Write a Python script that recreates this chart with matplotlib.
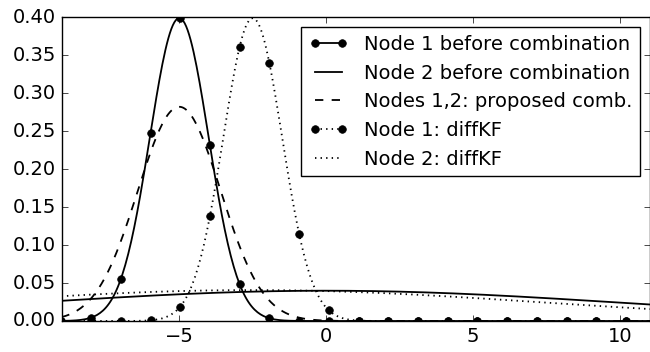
import numpy as np
import matplotlib
matplotlib.use('Agg')
import matplotlib.pyplot as plt

# Gaussian densities: (label, mean, std)
labels = ['Node 1 before combination', 'Node 2 before combination',
          'Nodes 1,2: proposed comb.', 'Node 1: diffKF', 'Node 2: diffKF']
means = [-5.0, 0.0, -5.0, -2.5, -2.5]
stds = [1.0, 10.0, 1.414, 1.0, 9.8]
styles = ['-', '-', '--', ':', ':']
has_marker = [True, False, False, True, False]

# marker grid (first marker at -8, spacing ~1.011)
mark_start = -8.0
mark_step = 1.011
sub = 20


def gauss(x, m, s):
    return np.exp(-0.5 * ((x - m) / s) ** 2) / (s * np.sqrt(2 * np.pi))


def main():
    plt.style.use('classic')
    plt.rcParams['figure.facecolor'] = 'white'
    plt.rcParams['savefig.facecolor'] = 'white'
    plt.rcParams['font.size'] = 14

    x = np.linspace(mark_start - mark_step, mark_start + 19 * mark_step, 20 * sub + 1)

    fig = plt.figure(figsize=(6.5, 3.52), dpi=100)
    ax = fig.add_axes([61.7 / 650, 31.0 / 352, (649.5 - 61.7) / 650, (334.7 - 31.0) / 352])

    for lab, m, s, ls, mk in zip(labels, means, stds, styles, has_marker):
        if mk:
            ax.plot(x, gauss(x, m, s), linestyle=ls, color='k', lw=1.3, marker='o',
                    markersize=5.5, markevery=sub, label=lab)
        else:
            ax.plot(x, gauss(x, m, s), linestyle=ls, color='k', lw=1.3, label=lab)

    ax.set_xlim(-9, 11)
    ax.set_ylim(0, 0.40)
    ax.set_xticks([-5, 0, 5, 10])
    ax.set_yticks(np.arange(0, 0.401, 0.05))
    ax.yaxis.set_major_formatter(matplotlib.ticker.FormatStrFormatter('%.2f'))
    ax.tick_params(labelsize=14)
    ax.legend(loc='upper right', fontsize=14, numpoints=2, fancybox=False)

    fig.savefig('out.png', dpi=100)


if __name__ == '__main__':
    main()
